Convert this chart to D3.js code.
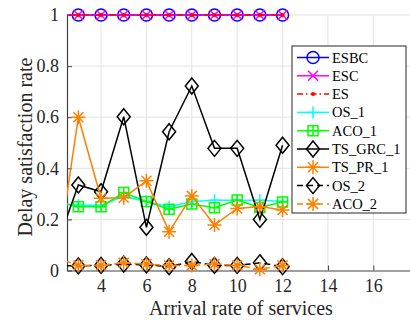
<!DOCTYPE html>
<html>
<head>
<meta charset="utf-8">
<script src="https://cdn.jsdelivr.net/npm/d3@7"></script>
<style>
  body { margin: 0; background: #fff; }
  svg, svg text { font-family: "Liberation Serif", "Times New Roman", serif !important; }
</style>
</head>
<body>
<svg width="410" height="323"></svg>
<script>
// arrival rates (x = 2 sits just left of the visible axis range)
let arrival = [2, 3, 4, 5, 6, 7, 8, 9, 10, 11, 12];

let esbc   = [1, 1, 1, 1, 1, 1, 1, 1, 1, 1, 1];
let esc    = [1, 1, 1, 1, 1, 1, 1, 1, 1, 1, 1];
let es     = [1, 1, 1, 1, 1, 1, 1, 1, 1, 1, 1];
let os1    = [0.26, 0.255, 0.255, 0.29, 0.27, 0.25, 0.27, 0.275, 0.275, 0.275, 0.27];
let aco1   = [0.27, 0.25, 0.25, 0.305, 0.27, 0.24, 0.26, 0.246, 0.276, 0.247, 0.268];
let tsGrc1 = [0.085, 0.335, 0.308, 0.602, 0.169, 0.543, 0.722, 0.478, 0.478, 0.2, 0.49];
let tsPr1  = [0.0, 0.6, 0.283, 0.285, 0.351, 0.152, 0.292, 0.178, 0.243, 0.25, 0.237];
let os2    = [0.02, 0.018, 0.02, 0.025, 0.022, 0.015, 0.035, 0.02, 0.02, 0.03, 0.015];
let aco2   = [0.05, 0.02, 0.02, 0.03, 0.025, 0.02, 0.02, 0.025, 0.02, 0.005, 0.02];

let xTicks = [4, 6, 8, 10, 12, 14, 16];
let yTicks = [0, 0.2, 0.4, 0.6, 0.8, 1];

let svg = d3.select('svg');

let x = d3.scaleLinear().domain([2.5, 18]).range([67, 418.7]);
let y = d3.scaleLinear().domain([0, 1]).range([270.5, 15]);

// grid
svg.append('g')
  .selectAll('line')
  .data(xTicks)
  .enter()
  .append('line')
  .attr('x1', d => x(d)).attr('x2', d => x(d))
  .attr('y1', y(0)).attr('y2', y(1))
  .attr('stroke', '#e3e3e3').attr('stroke-width', 1);

svg.append('g')
  .selectAll('line')
  .data(yTicks.filter(d => d > 0))
  .enter()
  .append('line')
  .attr('x1', x(2.5)).attr('x2', 410)
  .attr('y1', d => y(d)).attr('y2', d => y(d))
  .attr('stroke', '#e3e3e3').attr('stroke-width', 1);

// axes
let xAxis = svg.append('g')
  .attr('transform', 'translate(0,' + y(0) + ')')
  .call(d3.axisBottom(x).tickValues(xTicks).tickSizeInner(-5).tickSizeOuter(0).tickPadding(9));
let yAxis = svg.append('g')
  .attr('transform', 'translate(' + x(2.5) + ',0)')
  .call(d3.axisLeft(y).tickValues(yTicks).tickSizeInner(-5).tickSizeOuter(0).tickPadding(8)
    .tickFormat(d3.format('')));

[xAxis, yAxis].forEach(a => {
  a.attr('font-family', null);
  a.select('.domain').attr('stroke', '#404040').attr('stroke-width', 1.2);
  a.selectAll('.tick line').attr('stroke', '#404040');
  a.selectAll('text')
    .attr('font-size', 18)
    .attr('fill', '#262626');
});

svg.append('text')
  .attr('x', 241).attr('y', 315)
  .attr('text-anchor', 'middle')
  .attr('font-size', 20).attr('fill', '#262626')
  .text('Arrival rate of services');

svg.append('text')
  .attr('transform', 'translate(25,147) rotate(-90)')
  .attr('text-anchor', 'middle')
  .attr('dominant-baseline', 'central')
  .attr('font-size', 20).attr('fill', '#262626')
  .text('Delay satisfaction rate');

// series
let series = [
  { name: 'ESBC', values: esbc, color: '#0000ff', dash: null, marker: 'circle' },
  { name: 'ESC', values: esc, color: '#ff00ff', dash: null, marker: 'x' },
  { name: 'ES', values: es, color: '#ff0000', dash: '6,3,1.5,3', marker: 'point' },
  { name: 'OS_1', values: os1, color: '#00ffff', dash: null, marker: 'plus' },
  { name: 'ACO_1', values: aco1, color: '#00ff00', dash: null, marker: 'square' },
  { name: 'TS_GRC_1', values: tsGrc1, color: '#000000', dash: null, marker: 'diamond' },
  { name: 'TS_PR_1', values: tsPr1, color: '#ff8000', dash: null, marker: 'star' },
  { name: 'OS_2', values: os2, color: '#000000', dash: '6,4', marker: 'diamond' },
  { name: 'ACO_2', values: aco2, color: '#ff8000', dash: '6,4', marker: 'star' }
];

function markerPath(type) {
  if (type === 'circle') return d3.symbol(d3.symbolCircle, 113)();
  if (type === 'square') return 'M-5,-5H5V5H-5Z M-5,0H5 M0,-5V5';
  if (type === 'diamond') return 'M0,-8L6.5,0L0,8L-6.5,0Z';
  if (type === 'x') return 'M-5,-5L5,5M-5,5L5,-5';
  if (type === 'plus') return 'M-6,0H6M0,-6V6';
  if (type === 'star') return 'M-7,0H7M0,-7V7M-5,-5L5,5M-5,5L5,-5';
  return null;
}

svg.append('clipPath').attr('id', 'plotclip')
  .append('rect').attr('x', x(2.5)).attr('y', 0).attr('width', 420).attr('height', 323);

let plot = svg.append('g').attr('clip-path', 'url(#plotclip)');

let line = d3.line().x((d, i) => x(arrival[i])).y(d => y(d));

series.forEach(s => {
  plot.append('path')
    .datum(s.values)
    .attr('d', line)
    .attr('fill', 'none')
    .attr('stroke', s.color)
    .attr('stroke-width', 1.5)
    .attr('stroke-dasharray', s.dash);

  let pts = s.values.map((v, i) => [arrival[i], v]).filter(p => p[0] >= 2.5);
  if (s.marker === 'point') {
    plot.append('g').selectAll('circle').data(pts).enter().append('circle')
      .attr('cx', d => x(d[0])).attr('cy', d => y(d[1]))
      .attr('r', 2).attr('fill', s.color);
  } else {
    plot.append('g').selectAll('path').data(pts).enter().append('path')
      .attr('transform', d => 'translate(' + x(d[0]) + ',' + y(d[1]) + ')')
      .attr('d', markerPath(s.marker))
      .attr('fill', 'none')
      .attr('stroke', s.color)
      .attr('stroke-width', 1.5);
  }
});

// legend
let legend = svg.append('g');
legend.append('rect')
  .attr('x', 292).attr('y', 46).attr('width', 114).attr('height', 167)
  .attr('fill', '#fff').attr('stroke', '#262626').attr('stroke-width', 1);

series.forEach((s, i) => {
  let ly = 57.5 + i * 18.3;
  legend.append('line')
    .attr('x1', 297).attr('x2', 329).attr('y1', ly).attr('y2', ly)
    .attr('stroke', s.color).attr('stroke-width', 1.5)
    .attr('stroke-dasharray', s.dash);
  if (s.marker === 'point') {
    legend.append('circle').attr('cx', 313).attr('cy', ly).attr('r', 2).attr('fill', s.color);
  } else {
    legend.append('path')
      .attr('transform', 'translate(313,' + ly + ')')
      .attr('d', markerPath(s.marker))
      .attr('fill', 'none').attr('stroke', s.color).attr('stroke-width', 1.5);
  }
  legend.append('text')
    .attr('x', 332).attr('y', ly)
    .attr('dominant-baseline', 'central')
    .attr('font-size', 14.5).attr('fill', '#000')
    .text(s.name);
});
</script>
</body>
</html>
